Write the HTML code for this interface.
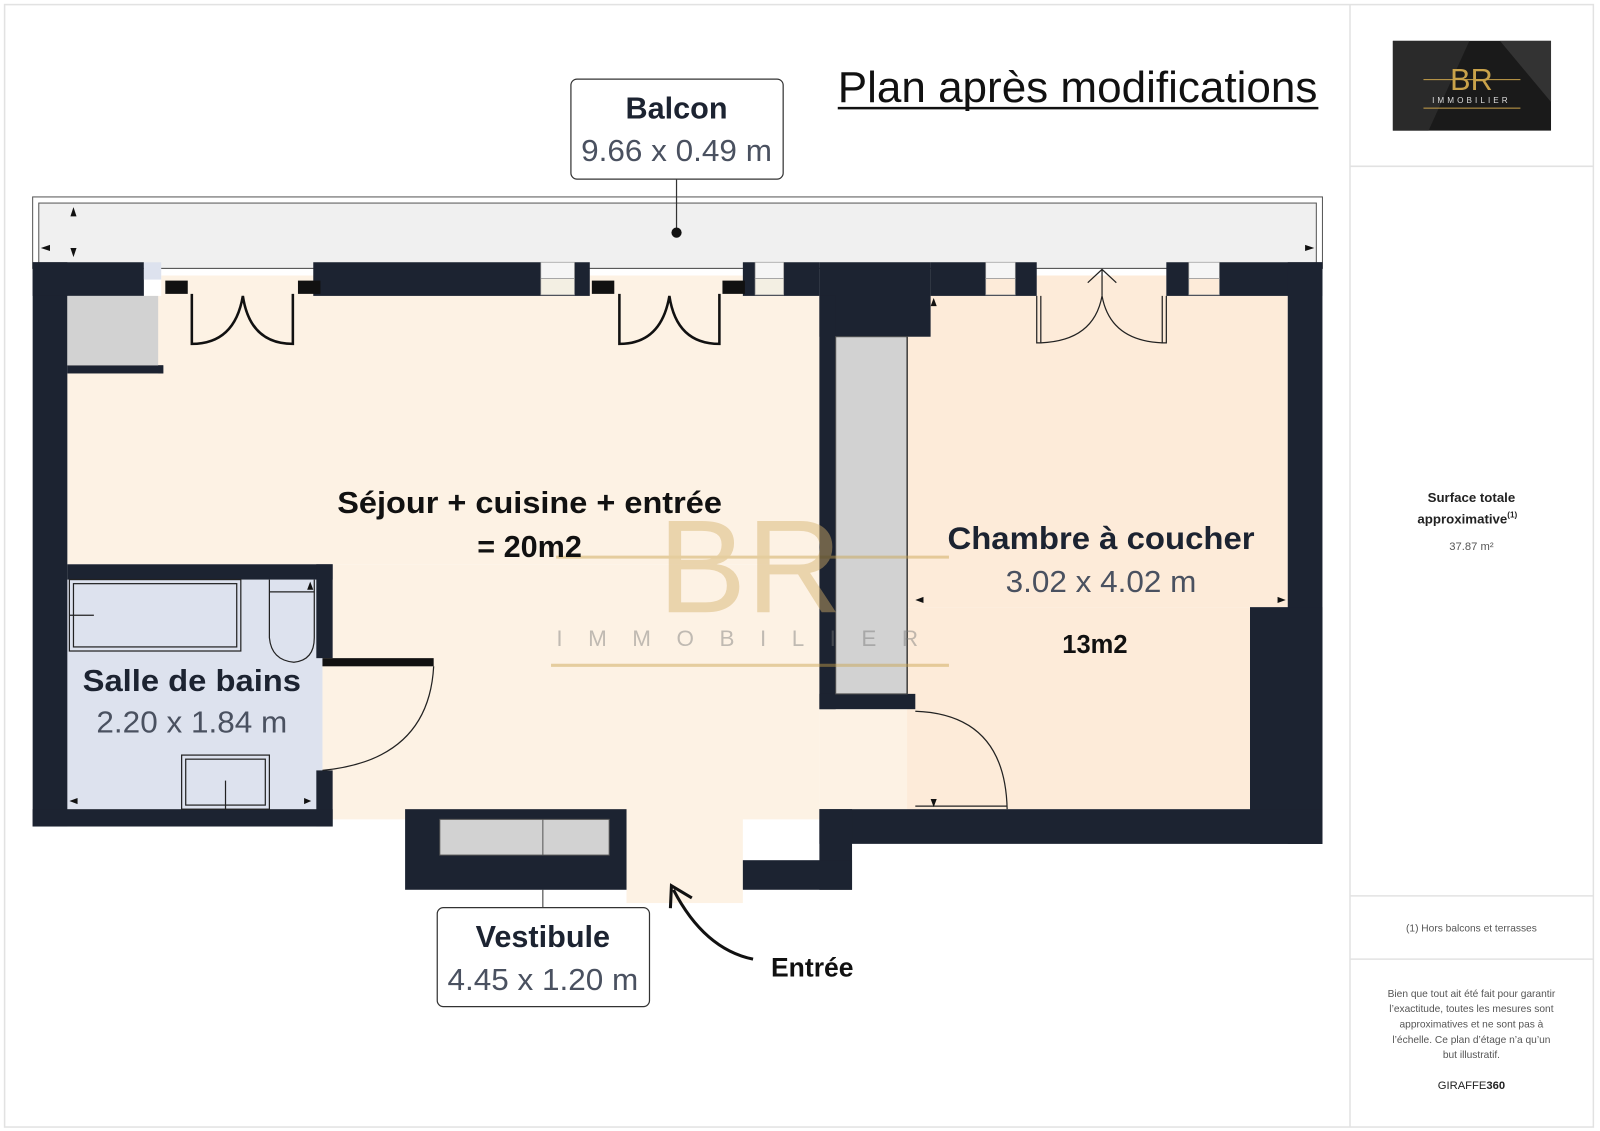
<!DOCTYPE html>
<html><head><meta charset="utf-8"><style>
html,body{margin:0;padding:0;background:#fff}
svg{display:block}
text{font-family:"Liberation Sans",sans-serif}
</style></head><body>
<svg width="1600" height="1131" viewBox="0 0 1568 1108.4" preserveAspectRatio="none" xmlns="http://www.w3.org/2000/svg">
<!-- outer frame -->
<rect x="4.5" y="4.5" width="1557" height="1100" fill="#fff" stroke="#e2e2e2" stroke-width="1.5"/>
<line x1="1323" y1="4" x2="1323" y2="1104" stroke="#e2e2e2" stroke-width="1.5"/>
<line x1="1323" y1="163" x2="1562" y2="163" stroke="#e2e2e2" stroke-width="1.5"/>
<line x1="1323" y1="878" x2="1562" y2="878" stroke="#e2e2e2" stroke-width="1.5"/>
<line x1="1323" y1="940" x2="1562" y2="940" stroke="#e2e2e2" stroke-width="1.5"/>

<!-- logo -->
<rect x="1365" y="40" width="155" height="88" fill="#1a1a1a"/>
<polygon points="1365,40 1440,40 1400,128 1365,128" fill="#2a2a2a"/>
<polygon points="1470,40 1520,40 1520,100" fill="#333"/>
<text x="1442" y="88" text-anchor="middle" font-size="30" fill="#c9a24a" font-family="Liberation Serif">BR</text>
<line x1="1395" y1="78" x2="1490" y2="78" stroke="#c9a24a" stroke-width="1"/>
<text x="1442" y="101" text-anchor="middle" font-size="8" fill="#ddd" letter-spacing="3">IMMOBILIER</text>
<line x1="1395" y1="106" x2="1490" y2="106" stroke="#c9a24a" stroke-width="1"/>

<!-- right panel text -->
<text x="1442" y="492" text-anchor="middle" font-size="13" font-weight="bold" fill="#222">Surface totale</text>
<text x="1438" y="513" text-anchor="middle" font-size="13" font-weight="bold" fill="#222">approximative<tspan font-size="8" dy="-6">(1)</tspan></text>
<text x="1442" y="539" text-anchor="middle" font-size="11" fill="#555">37.87 m²</text>
<text x="1442" y="913" text-anchor="middle" font-size="10" fill="#555">(1) Hors balcons et terrasses</text>
<g font-size="10" fill="#555" text-anchor="middle">
<text x="1442" y="977">Bien que tout ait été fait pour garantir</text>
<text x="1442" y="992">l’exactitude, toutes les mesures sont</text>
<text x="1442" y="1007">approximatives et ne sont pas à</text>
<text x="1442" y="1022">l’échelle. Ce plan d’étage n’a qu’un</text>
<text x="1442" y="1037">but illustratif.</text>
</g>
<text x="1442" y="1067" text-anchor="middle" font-size="11" fill="#222">GIRAFFE<tspan font-weight="bold">360</tspan></text>

<!-- title -->
<text x="1056" y="100" text-anchor="middle" font-size="43" fill="#111" textLength="470" lengthAdjust="spacingAndGlyphs">Plan après modifications</text>
<line x1="821" y1="106" x2="1292" y2="106" stroke="#111" stroke-width="2.5"/>

<!-- balcony -->
<rect x="32" y="193" width="1264" height="70" fill="#fff" stroke="#555" stroke-width="1"/>
<rect x="38" y="199" width="1252" height="64" fill="#f0f0f0" stroke="#555" stroke-width="1"/>
<g fill="#111">
<polygon points="72,203 69,212 75,212"/><polygon points="72,252 69,243 75,243"/>
<polygon points="40,243 49,240 49,246"/><polygon points="1288,243 1279,240 1279,246"/>
</g>

<!-- floor fills -->
<g>
<rect x="66" y="290" width="737" height="263" fill="#fdf2e4"/>
<rect x="316" y="553" width="487" height="250" fill="#fdf2e4"/>
<rect x="614" y="793" width="114" height="92" fill="#fdf2e4"/>
<rect x="803" y="695" width="94" height="98" fill="#fdf2e4"/>
<rect x="158" y="270" width="150" height="22" fill="#fdf2e4"/>
<rect x="578" y="270" width="150" height="22" fill="#fdf2e4"/>
<rect x="889" y="290" width="373" height="305" fill="#fdebd9"/>
<rect x="889" y="595" width="336" height="198" fill="#fdebd9"/>
<rect x="1016" y="270" width="127" height="22" fill="#fdebd9"/>
<rect x="66" y="568" width="250" height="225" fill="#dde2ee"/>
</g>

<!-- walls -->
<g fill="#1c2331">
<rect x="32" y="257" width="34" height="553"/>
<rect x="32" y="257" width="109" height="33"/>
<rect x="141" y="257" width="17" height="17" fill="#dde2ee"/>
<rect x="307" y="257" width="271" height="33"/>
<rect x="728" y="257" width="75" height="33"/>
<rect x="803" y="257" width="109" height="73"/>
<rect x="912" y="257" width="104" height="33"/>
<rect x="1143" y="257" width="153" height="33"/>
<rect x="1262" y="257" width="34" height="570"/>
<rect x="1225" y="595" width="71" height="232"/>
<rect x="803" y="793" width="493" height="34"/>
<rect x="803" y="793" width="32" height="79"/>
<rect x="728" y="843" width="107" height="29"/>
<rect x="803" y="290" width="16" height="405"/>
<rect x="803" y="680" width="94" height="15"/>
<rect x="66" y="553" width="260" height="15"/>
<rect x="310" y="553" width="16" height="92"/>
<rect x="310" y="755" width="16" height="55"/>
<rect x="32" y="793" width="294" height="17"/>
<rect x="397" y="793" width="217" height="79"/>
<rect x="155" y="358" width="5" height="8"/>
<rect x="66" y="358" width="94" height="8"/>
</g>
<!-- windows -->
<g fill="#f3efe3" stroke="#999" stroke-width="0.7">
<rect x="530" y="257" width="33" height="16" fill="#f5f5f5"/><rect x="530" y="273" width="33" height="16"/>
<rect x="740" y="257" width="28" height="16" fill="#f5f5f5"/><rect x="740" y="273" width="28" height="16"/>
<rect x="966" y="257" width="29" height="16" fill="#f5f5f5"/><rect x="966" y="273" width="29" height="16" fill="#fdebd9"/>
<rect x="1165" y="257" width="30" height="16" fill="#f5f5f5"/><rect x="1165" y="273" width="30" height="16" fill="#fdebd9"/>
</g>
<!-- grey furniture -->
<rect x="66" y="290" width="89" height="68" fill="#d2d2d2"/>
<rect x="819" y="330" width="70" height="350" fill="#d2d2d2" stroke="#555" stroke-width="1"/>
<rect x="431" y="803" width="166" height="35" fill="#d2d2d2" stroke="#555" stroke-width="1"/>
<line x1="532" y1="803" x2="532" y2="838" stroke="#555"/>
<line x1="532" y1="872" x2="532" y2="889" stroke="#333"/>

<!-- door frames -->
<g fill="#111">
<rect x="162" y="275" width="22" height="13"/><rect x="292" y="275" width="22" height="13"/>
<rect x="580" y="275" width="22" height="13"/><rect x="708" y="275" width="22" height="13"/>
<rect x="316" y="645" width="109" height="8"/>
</g>
<!-- door swings -->
<g fill="none" stroke="#111" stroke-width="2.5">
<path d="M188,288 V337 Q230,337 238,290 Q245,337 287,337 V288"/>
<path d="M607,288 V337 Q648,337 656,290 Q663,337 705,337 V288"/>
</g>
<g fill="none" stroke="#222" stroke-width="1.2">
<path d="M1016,290 V336 H1020 V290 M1143,290 V336 H1139 V290"/>
<path d="M1020,336 Q1072,334 1080,290 Q1088,334 1139,336"/>
<path d="M1066,277 L1080,264 L1094,277 M1080,264 V290"/>
<path d="M425,653 Q420,745 316,755"/>
<path d="M897,697 Q985,700 987,793 M897,790 H987"/>
<rect x="68" y="568" width="168" height="70"/><rect x="72" y="572" width="160" height="62"/>
<line x1="68" y1="603" x2="92" y2="603"/>
<path d="M264,568 V625 Q266,647 288,649 Q308,647 308,625 V568"/>
<line x1="264" y1="580" x2="308" y2="580"/>
<rect x="178" y="740" width="86" height="53"/><rect x="182" y="744" width="78" height="45"/>
<line x1="221" y1="765" x2="221" y2="793"/>
<line x1="889" y1="330" x2="889" y2="680"/>
</g>
<g fill="#111">
<polygon points="304,570 301,578 307,578"/><polygon points="68,785 76,782 76,788"/>
<polygon points="305,785 298,782 298,788"/>
<polygon points="915,292 912,300 918,300"/><polygon points="897,588 905,585 905,591"/>
<polygon points="1260,588 1252,585 1252,591"/><polygon points="915,791 912,783 918,783"/>
</g>

<!-- watermark -->
<g opacity="0.45">
<text x="735" y="600" text-anchor="middle" font-size="130" fill="#d4b06a" font-family="Liberation Serif">BR</text>
<line x1="545" y1="546" x2="930" y2="546" stroke="#c9a24a" stroke-width="3"/>
<line x1="540" y1="652" x2="930" y2="652" stroke="#c9a24a" stroke-width="3"/>
<text x="735" y="633" text-anchor="middle" font-size="22" fill="#777" letter-spacing="25">IMMOBILIER</text>
</g>

<!-- room labels -->
<text x="519" y="503" text-anchor="middle" font-size="30" font-weight="bold" fill="#111" textLength="377" lengthAdjust="spacingAndGlyphs">Séjour + cuisine + entrée</text>
<text x="519" y="546" text-anchor="middle" font-size="30" font-weight="bold" fill="#111">= 20m2</text>
<text x="1079" y="538" text-anchor="middle" font-size="31" font-weight="bold" fill="#1c2331" textLength="301" lengthAdjust="spacingAndGlyphs">Chambre à coucher</text>
<text x="1079" y="580" text-anchor="middle" font-size="30" fill="#4a5160" textLength="187" lengthAdjust="spacingAndGlyphs">3.02 x 4.02 m</text>
<text x="1073" y="640" text-anchor="middle" font-size="25" font-weight="bold" fill="#111">13m2</text>
<text x="188" y="677" text-anchor="middle" font-size="30" font-weight="bold" fill="#1c2331" textLength="214" lengthAdjust="spacingAndGlyphs">Salle de bains</text>
<text x="188" y="718" text-anchor="middle" font-size="30" fill="#4a5160" textLength="187" lengthAdjust="spacingAndGlyphs">2.20 x 1.84 m</text>

<!-- Balcon label -->
<line x1="663" y1="176" x2="663" y2="228" stroke="#333" stroke-width="1.2"/>
<circle cx="663" cy="228" r="5" fill="#111"/>
<rect x="559.5" y="77.5" width="208" height="98" rx="6" fill="#fff" stroke="#333" stroke-width="1.2"/>
<text x="663" y="116" text-anchor="middle" font-size="30" font-weight="bold" fill="#1c2331">Balcon</text>
<text x="663" y="158" text-anchor="middle" font-size="30" fill="#4a5160" textLength="187" lengthAdjust="spacingAndGlyphs">9.66 x 0.49 m</text>
<!-- Vestibule label -->
<rect x="428.5" y="889.5" width="208" height="97" rx="6" fill="#fff" stroke="#333" stroke-width="1.2"/>
<text x="532" y="928" text-anchor="middle" font-size="30" font-weight="bold" fill="#1c2331">Vestibule</text>
<text x="532" y="970" text-anchor="middle" font-size="30" fill="#4a5160" textLength="187" lengthAdjust="spacingAndGlyphs">4.45 x 1.20 m</text>

<!-- Entrée arrow -->
<path d="M738,940 Q690,930 660,872" fill="none" stroke="#111" stroke-width="3"/>
<path d="M657,890 L658,868 L678,880" fill="none" stroke="#111" stroke-width="3"/>
<text x="796" y="957" text-anchor="middle" font-size="26" font-weight="bold" fill="#111">Entrée</text>
</svg>
</body></html>
